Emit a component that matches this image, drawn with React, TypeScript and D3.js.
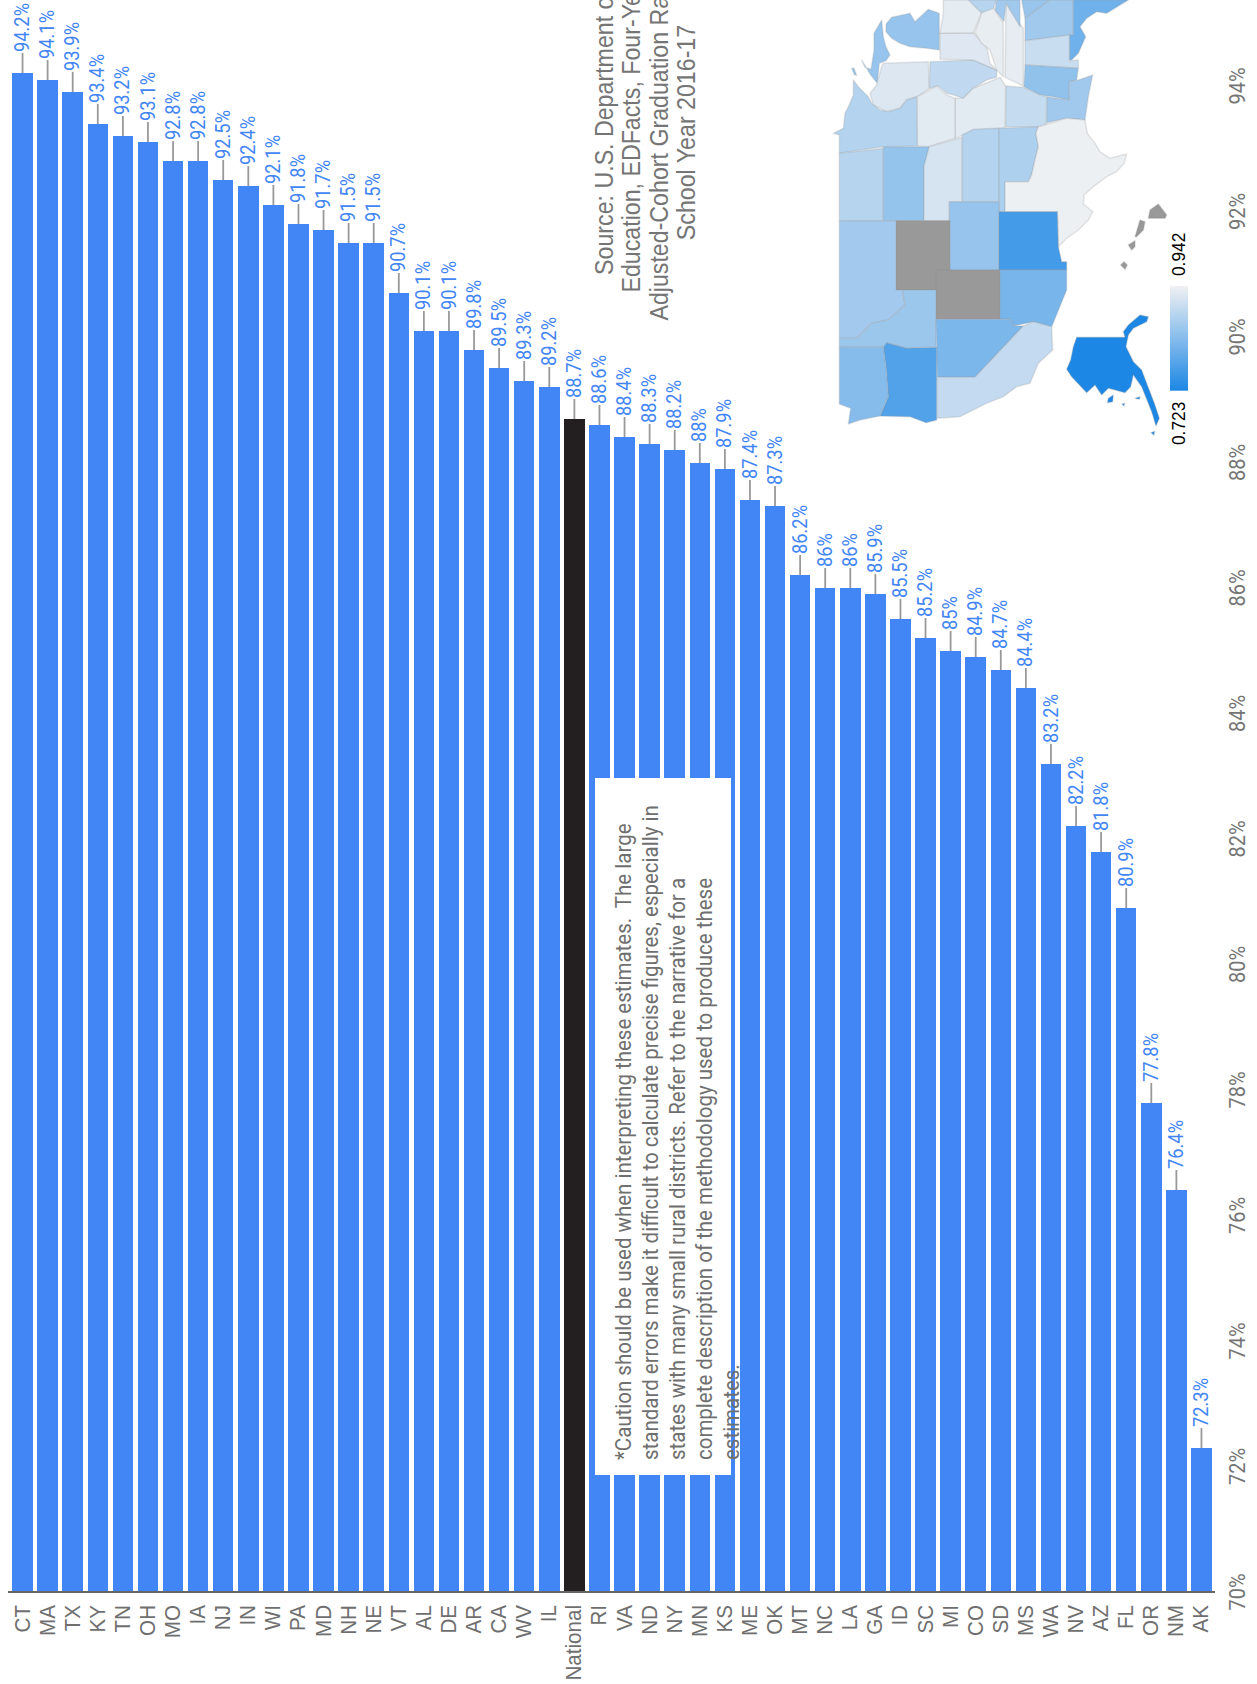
import React from "react";
import * as d3 from "d3";

const states = ["CT","MA","TX","KY","TN","OH","MO","IA","NJ","IN","WI","PA","MD","NH","NE","VT","AL","DE","AR","CA","WV","IL","National","RI","VA","ND","NY","MN","KS","ME","OK","MT","NC","LA","GA","ID","SC","MI","CO","SD","MS","WA","NV","AZ","FL","OR","NM","AK"];
const rates = [94.2,94.1,93.9,93.4,93.2,93.1,92.8,92.8,92.5,92.4,92.1,91.8,91.7,91.5,91.5,90.7,90.1,90.1,89.8,89.5,89.3,89.2,88.7,88.6,88.4,88.3,88.2,88,87.9,87.4,87.3,86.2,86,86,85.9,85.5,85.2,85,84.9,84.7,84.4,83.2,82.2,81.8,80.9,77.8,76.4,72.3];
const ticks = [70,72,74,76,78,80,82,84,86,88,90,92,94];

const cautionLines = [
  "*Caution should be used when interpreting these estimates.  The large",
  "standard errors make it difficult to calculate precise figures, especially in",
  "states with many small rural districts. Refer to the narrative for a",
  "complete description of the methodology used to produce these",
  "estimates.",
];
const sourceLines = [
  "Source: U.S. Department of",
  "Education, EDFacts, Four-Year",
  "Adjusted-Cohort Graduation Rates,",
  "School Year 2016-17",
];

type Pt = [number, number];
// outlines, in map-space units (3 units = 1 pixel)
const stateShapes: { id: string; rings: Pt[][] }[] = [
  { id: "MI", rings: [
    [[258,72],[275,52],[330,40],[345,65],[385,28],[418,40],[418,150],[380,145],[330,140],[300,130],[275,115],[258,95]],
    [[185,180],[195,202],[213,208],[222,150],[222,100],[245,60],[250,110],[258,140],[270,165],[258,182],[238,190],[232,250],[212,225]],
    [[155,205],[162,205],[170,226],[163,224]],
  ]},
  { id: "WI", rings: [[[250,190],[385,185],[388,265],[360,285],[350,290],[320,300],[300,325],[260,335],[220,315],[210,280],[230,255],[245,200]]] },
  { id: "IL", rings: [[[390,185],[520,180],[590,210],[590,232],[560,240],[520,265],[490,295],[460,285],[440,280],[415,258],[388,265]]] },
  { id: "IN", rings: [[[420,100],[520,98],[560,140],[570,190],[590,210],[520,180],[420,178]]] },
  { id: "OH", rings: [[[430,0],[510,0],[545,40],[520,98],[420,100],[430,40]]] },
  { id: "KY", rings: [[[545,38],[580,22],[610,70],[610,230],[590,210],[570,150],[545,130],[525,98]]] },
  { id: "TN", rings: [[[618,10],[670,85],[670,258],[615,232]]] },
  { id: "VA", rings: [[[505,0],[590,0],[580,25],[545,38],[520,15]]] },
  { id: "NC", rings: [[[590,0],[660,0],[660,80],[618,10],[612,65],[585,30]]] },
  { id: "SC", rings: [[[665,0],[750,0],[675,55]]] },
  { id: "GA", rings: [[[750,0],[820,0],[820,105],[675,122],[675,55]]] },
  { id: "FL", rings: [[[820,0],[985,0],[960,15],[920,40],[890,35],[860,55],[840,80],[857,110],[835,160],[815,180],[808,180],[808,105],[820,105]]] },
  { id: "AL", rings: [[[675,122],[808,105],[808,182],[835,180],[835,205],[675,195]]] },
  { id: "MS", rings: [[[675,195],[835,205],[830,240],[808,245],[808,300],[760,290],[720,285],[680,265],[672,260]]] },
  { id: "LA", rings: [[[808,245],[835,240],[878,225],[865,290],[855,360],[800,355],[740,368],[740,290],[808,300]]] },
  { id: "AR", rings: [[[617,258],[670,262],[720,285],[740,290],[738,380],[617,380]]] },
  { id: "MO", rings: [[[465,295],[490,295],[520,265],[600,232],[617,258],[615,385],[520,390],[490,405],[465,415]]] },
  { id: "IA", rings: [[[352,290],[410,258],[440,285],[465,295],[465,415],[385,440],[352,438]]] },
  { id: "MN", rings: [[[130,385],[135,340],[145,320],[160,285],[160,240],[175,260],[205,290],[215,310],[240,330],[265,335],[300,325],[320,300],[350,290],[352,438],[250,440],[118,460],[118,405],[100,400]]] },
  { id: "ND", rings: [[[118,460],[250,445],[250,662],[118,662]]] },
  { id: "SD", rings: [[[250,440],[388,440],[372,500],[372,662],[250,662]]] },
  { id: "NE", rings: [[[388,440],[487,412],[487,605],[448,605],[448,662],[372,662],[372,500]]] },
  { id: "KS", rings: [[[487,405],[520,388],[597,385],[597,605],[487,605]]] },
  { id: "OK", rings: [[[597,385],[715,380],[708,400],[715,440],[705,480],[695,525],[685,545],[615,545],[615,635],[597,635]]] },
  { id: "TX", rings: [[[715,380],[800,355],[855,360],[862,400],[885,430],[900,455],[930,475],[980,462],[972,490],[950,515],[920,530],[880,560],[852,585],[850,612],[878,635],[865,660],[835,690],[800,715],[775,740],[772,635],[615,635],[615,545],[685,545],[695,525],[705,480],[715,440],[708,400]]] },
  { id: "CO", rings: [[[448,605],[597,605],[597,810],[448,810]]] },
  { id: "NM", rings: [[[597,635],[772,635],[775,740],[785,785],[800,785],[800,810],[597,810]]] },
  { id: "WY", rings: [[[288,662],[450,662],[450,870],[288,870]]] },
  { id: "UT", rings: [[[408,810],[600,810],[600,958],[408,958]]] },
  { id: "AZ", rings: [[[600,810],[800,810],[800,870],[755,980],[700,965],[640,978],[630,958],[600,958]]] },
  { id: "MT", rings: [[[118,662],[288,662],[288,870],[308,870],[315,915],[265,960],[215,970],[170,1015],[118,1015]]] },
  { id: "ID", rings: [[[308,870],[408,870],[408,1040],[320,1045],[260,1028],[250,1042],[118,1042],[118,1015],[170,1015],[215,970],[265,960],[315,915]]] },
  { id: "NV", rings: [[[408,958],[630,958],[640,978],[670,978],[525,1132],[412,1132]]] },
  { id: "CA", rings: [[[670,978],[700,965],[755,980],[758,1050],[715,1090],[690,1150],[650,1160],[610,1190],[560,1210],[480,1250],[412,1255],[412,1132],[525,1132]]] },
  { id: "OR", rings: [[[260,1028],[320,1045],[410,1042],[410,1260],[378,1268],[330,1250],[240,1248],[265,1190],[258,1100],[250,1042]]] },
  { id: "WA", rings: [[[118,1042],[250,1042],[258,1100],[265,1190],[240,1248],[180,1260],[145,1272],[152,1225],[118,1212]]] },
  { id: "AK", rings: [
    [[830,1012],[975,1012],[970,995],[985,975],[1020,945],[1045,950],[1040,965],[1000,985],[985,1005],[978,1040],[1000,1085],[1025,1110],[1040,1150],[1065,1215],[1078,1255],[1068,1278],[1055,1235],[1025,1160],[1000,1125],[992,1160],[975,1178],[945,1170],[925,1165],[905,1185],[885,1155],[860,1178],[815,1130],[800,1108],[812,1080],[820,1040]],
    [[925,1195],[940,1185],[938,1205],[922,1208]],
    [[1005,1195],[1020,1190],[1018,1198]],
    [[966,1212],[974,1210],[972,1218]],
    [[1053,1298],[1064,1294],[1062,1305]],
  ]},
  { id: "HI", rings: [
    [[1045,655],[1050,630],[1075,612],[1100,645],[1095,655]],
    [[1005,710],[1020,660],[1035,665],[1030,690],[1010,710]],
    [[985,735],[1005,722],[1005,740],[995,750]],
    [[962,795],[972,785],[982,795],[975,808]],
  ]},
];

const kx = 1.1;
const W = 1257, H = 1684;
const baseY = 1592;

const x = d3.scaleBand<string>().domain(states).range([10, 1214]).paddingInner(0.18).paddingOuter(0.09);
const y = d3.scaleLinear().domain([70, 94.2]).range([baseY, baseY - 24.2 * 62.75]);
const mapX = d3.scaleLinear().domain([0, 3]).range([800, 801]);
const mapY = d3.scaleLinear().domain([0, 3]).range([0, 1]);
const mapColor = d3.scaleLinear<string>().domain([0.723, 0.942]).range(["#1c87e4", "#f0f1f3"]);
const legendY = d3.scaleLinear().domain([0.723, 0.942]).range([390.7, 286]);
const ring = d3.line<Pt>().x(d => mapX(d[0])).y(d => mapY(d[1]));
const rateByState = new Map(states.map((s, i) => [s, rates[i]]));
const legendStops = d3.range(0, 1.01, 0.1);

function rot(px: number, py: number) {
  return `translate(${px},${py}) scale(${kx},1) rotate(-90)`;
}

export default function App() {
  return (
    <svg width={W} height={H} style={{ position: "absolute", left: 0, top: 0, background: "#fff" }}>
      <defs>
        <linearGradient id="legend" x1="0" y1="1" x2="0" y2="0">
          {legendStops.map(t => <stop key={t} offset={t} stopColor={mapColor(0.723 + t * 0.219)} />)}
        </linearGradient>
      </defs>

      {states.map((s, i) => {
        const left = Math.round(x(s)!);
        const right = Math.round(x(s)! + x.bandwidth());
        const cx = x(s)! + x.bandwidth() / 2;
        const top = Math.round(y(rates[i]));
        return (
          <g key={s}>
            <rect x={left} y={top} width={right - left} height={baseY - top}
              fill={s === "National" ? "#231f20" : "#4285f4"} />
            <line x1={cx} x2={cx} y1={top} y2={top - 20} stroke="#999" strokeWidth={1.8} />
            <text transform={rot(cx + 6.6, top - 21)} fontFamily="Roboto" fontSize={18.3} fill="#4285f4">
              {`${rates[i]}%`}
            </text>
            <text transform={rot(cx + 7, 1605)} textAnchor="end" fontFamily="Liberation Sans" fontSize={20.6} fill="#6f6f6f">
              {s}
            </text>
          </g>
        );
      })}

      <line x1={8} x2={1215} y1={baseY} y2={baseY} stroke="#666" strokeWidth={2} />

      {ticks.map(t => (
        <text key={t} transform={rot(1245, y(t))} textAnchor="middle" fontFamily="Roboto" fontSize={20} fill="#757575">
          {`${t}%`}
        </text>
      ))}

      <rect x={595} y={778} width={136} height={697} fill="#fff" />
      {cautionLines.map((l, i) => (
        <text key={i} transform={rot(631 + i * 27.1, 1460)} fontFamily="Roboto" fontSize={20.5} fill="#6f6f6f" xmlSpace="preserve">
          {l}
        </text>
      ))}

      {sourceLines.map((l, i) => (
        <text key={i} transform={rot(613 + i * 27.4, i === 2 ? 139.5 : 132.5)} textAnchor="middle" fontFamily="Liberation Sans" fontSize={23.2} fill="#757575">
          {l}
        </text>
      ))}

      {stateShapes.map(st => {
        const v = rateByState.get(st.id);
        const fill = v === undefined ? "#999999" : mapColor(v / 100);
        return (
          <path key={st.id} d={st.rings.map(r => ring(r) + "Z").join("")} fill={fill}
            stroke={v === undefined ? "#8a8a8a" : "#9a9a9a"} strokeOpacity={0.25} strokeWidth={1.5} strokeLinejoin="round" />
        );
      })}

      <rect x={1170} y={legendY(0.942)} width={18} height={legendY(0.723) - legendY(0.942)} fill="url(#legend)" />
      <text transform={rot(1185, 276)} fontFamily="Liberation Sans" fontSize={17.3} fill="#000">0.942</text>
      <text transform={rot(1185, 445)} fontFamily="Liberation Sans" fontSize={17.3} fill="#000">0.723</text>
    </svg>
  );
}
